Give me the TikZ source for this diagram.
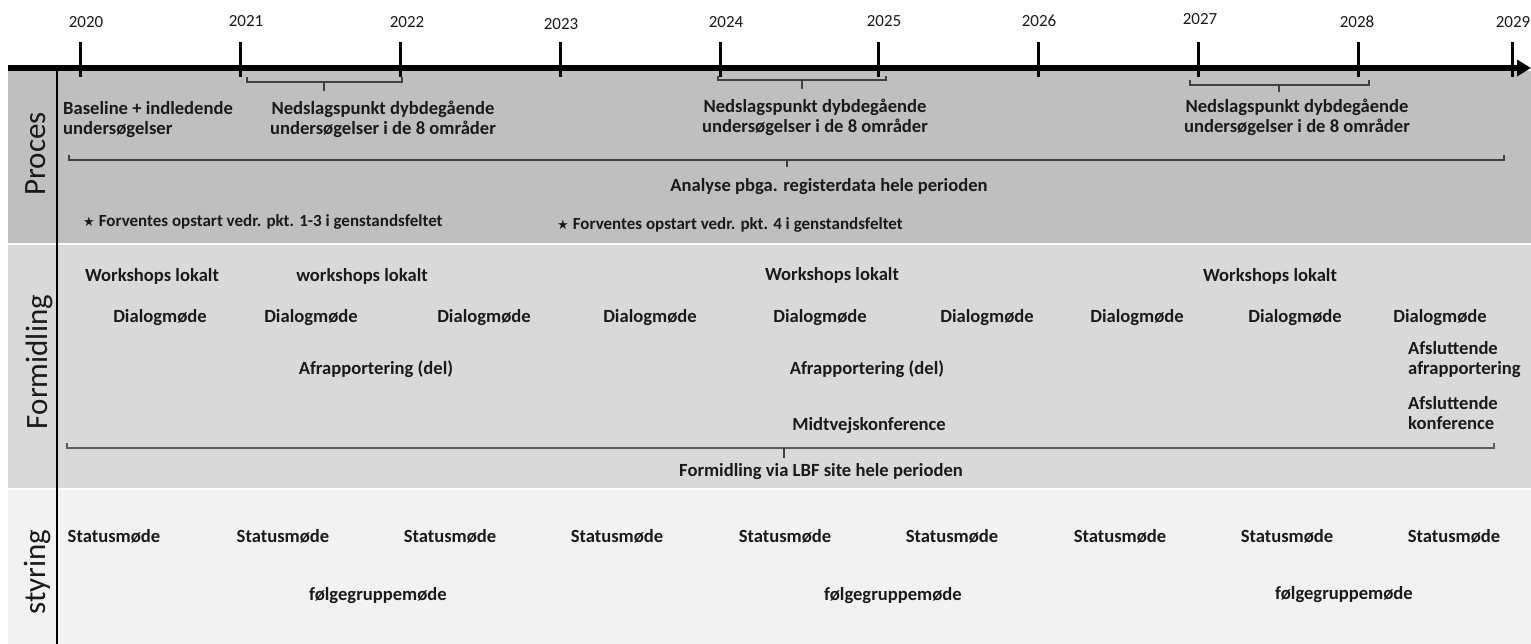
\documentclass[tikz,border=0pt]{standalone}
\usepackage{fontspec}
\setmainfont{Carlito}
\newfontfamily\symfont{DejaVu Sans}
\usetikzlibrary{arrows.meta,calc}
\definecolor{procbg}{HTML}{BFBFBF}
\definecolor{formbg}{HTML}{D9D9D9}
\definecolor{styrbg}{HTML}{F2F2F2}
\definecolor{brkc}{HTML}{404040}
\definecolor{txtc}{HTML}{1A1A1A}
\begin{document}
\begin{tikzpicture}[x=1pt,y=-1pt,
  body/.style={inner sep=0pt, anchor=base, text=txtc, font=\fontsize{18.6}{20}\selectfont\bfseries},
  bodyw/.style={body, anchor=base west},
  yr/.style={inner sep=0pt, anchor=base, text=txtc, font=\fontsize{17}{20}\selectfont},
  lane/.style={inner sep=0pt, anchor=base, rotate=90, text=txtc, font=\fontsize{31}{36}\selectfont},
  note/.style={inner sep=0pt, anchor=base west, text=txtc, font=\fontsize{17}{19}\selectfont\bfseries},
  tickln/.style={line width=3pt},
  brk/.style={draw=brkc, line width=1.5pt},
]
\useasboundingbox (0,0) rectangle (1531,644);
% bands
\fill[procbg] (8,71) rectangle (1531,243);
\fill[formbg] (8,245) rectangle (1531,488);
\fill[styrbg] (8,490) rectangle (1531,644);
% vertical separator
\coordinate (vtop) at (57,70);
\coordinate (vbot) at (57,644);
\draw[line width=1.5pt] (vtop) -- (vbot);
% axis
\coordinate (axl) at (8,68);
\coordinate (axr) at (1531,68);
\draw[line width=6pt, -{Triangle[length=14pt,width=16pt]}] (axl) -- (axr);
% ticks and years
\foreach \yy/\tx/\lx/\lb in {2020/80.5/86/28, 2021/240.7/246/27, 2022/400/407/28, 2023/560/561/30, 2024/720/726/28, 2025/878.5/884/27, 2026/1038.5/1039/27, 2027/1198/1200/25, 2028/1358/1357/28, 2029/1512/1513/28}{
  \coordinate (t\yy) at (\tx,68);
  \draw[tickln] ($(t\yy)+(0,-26)$) -- ($(t\yy)+(0,9)$);
  \node[yr] (y\yy) at (\lx,\lb) {\yy};
}
% lane labels
\node[lane] (lproc) at (45,154) {Proces};
\node[lane] (lform) at (47,362) {Formidling};
\node[lane] (lstyr) at (45,572) {styring};
% brackets under axis
\draw[brk] (247,77) |- (402,82) -- (402,77);
\draw[brk] (324,82) -- (324,91);
\draw[brk] (718,76) |- (886,80) -- (886,76);
\draw[brk] (802,80) -- (802,89);
\draw[brk] (1190,80) |- (1369,85) -- (1369,80);
\draw[brk] (1279,85) -- (1279,92);
% Proces texts
\node[bodyw] (base1) at (63,115) {Baseline + indledende};
\node[bodyw] (base2) at (63,135) {undersøgelser};
\node[body] (ned1a) at (383,115) {Nedslagspunkt dybdegående};
\node[body] (ned1b) at (383,135) {undersøgelser i de 8 områder};
\node[body] (ned2a) at (815,113) {Nedslagspunkt dybdegående};
\node[body] (ned2b) at (815,133) {undersøgelser i de 8 områder};
\node[body] (ned3a) at (1297,113) {Nedslagspunkt dybdegående};
\node[body] (ned3b) at (1297,133) {undersøgelser i de 8 områder};
\draw[brk] (69,155) |- (1504,160) -- (1504,155);
\draw[brk] (787,160) -- (787,167);
\node[body] (analyse) at (829,192) {Analyse pbga. registerdata hele perioden};
\node[note] (star1) at (83,227) {{\symfont\fontsize{13}{14}\selectfont★}\hspace{4pt}Forventes opstart vedr. pkt. 1-3 i genstandsfeltet};
\node[note] (star2) at (557,230) {{\symfont\fontsize{13}{14}\selectfont★}\hspace{4pt}Forventes opstart vedr. pkt. 4 i genstandsfeltet};
% Formidling texts
\node[body] (ws1) at (152,282) {Workshops lokalt};
\node[body] (ws2) at (362,282) {workshops lokalt};
\node[body] (ws3) at (832,281) {Workshops lokalt};
\node[body] (ws4) at (1270,282) {Workshops lokalt};
\foreach \i/\x in {1/160, 2/311, 3/484, 4/650, 5/820, 6/987, 7/1137, 8/1295, 9/1440}{
  \node[body] (dm\i) at (\x,322) {Dialogmøde};
}
\node[body] (afr1) at (376,374) {Afrapportering (del)};
\node[body] (afr2) at (867,374) {Afrapportering (del)};
\node[bodyw] (afsa1) at (1408,354) {Afsluttende};
\node[bodyw] (afsa2) at (1408,374) {afrapportering};
\node[bodyw] (afsk1) at (1408,409) {Afsluttende};
\node[bodyw] (afsk2) at (1408,429) {konference};
\node[body] (midt) at (869,430) {Midtvejskonference};
\draw[brk, line width=2pt, draw=brkc!85] (67,443) |- (1494,448) -- (1494,443);
\draw[brk] (784,448) -- (784,458);
\node[body] (lbf) at (821,476) {Formidling via LBF site hele perioden};
% styring texts
\foreach \i/\x in {1/114, 2/283, 3/450, 4/617, 5/785, 6/952, 7/1120, 8/1287, 9/1454}{
  \node[body] (sm\i) at (\x,542) {Statusmøde};
}
\node[body] (fg1) at (378,600) {følgegruppemøde};
\node[body] (fg2) at (893,600) {følgegruppemøde};
\node[body] (fg3) at (1344,599) {følgegruppemøde};
\end{tikzpicture}
\end{document}
